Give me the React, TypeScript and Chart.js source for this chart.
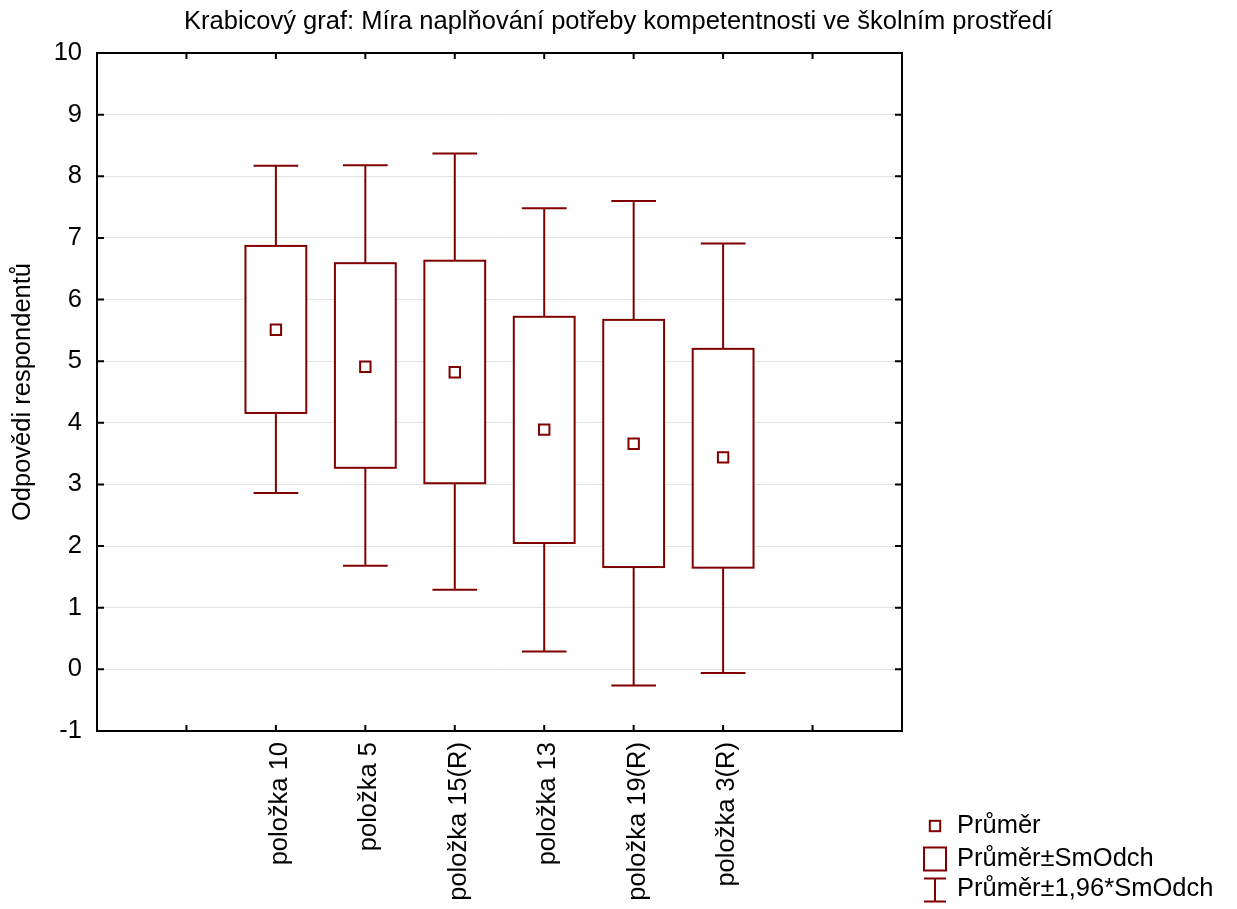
import React, { useEffect, useRef } from 'react';
import { Chart, registerables } from 'chart.js';

Chart.register(...registerables);

// ---- data ----
const titleText = 'Krabicový graf: Míra naplňování potřeby kompetentnosti ve školním prostředí';
const yAxisTitle = 'Odpovědi respondentů';
const categories = ['položka 10', 'položka 5', 'položka 15(R)', 'položka 13', 'položka 19(R)', 'položka 3(R)'];
const positions = [2, 3, 4, 5, 6, 7];
const means = [5.51, 4.91, 4.82, 3.89, 3.66, 3.44];
const sdLow = [4.16, 3.27, 3.02, 2.05, 1.66, 1.65];
const sdHigh = [6.87, 6.59, 6.63, 5.72, 5.67, 5.2];
const ciLow = [2.86, 1.68, 1.29, 0.29, -0.26, -0.06];
const ciHigh = [8.17, 8.18, 8.37, 7.48, 7.6, 6.91];
const legendLabels = ['Průměr', 'Průměr±SmOdch', 'Průměr±1,96*SmOdch'];

// ---- styles ----
const COLOR = '#800000';
const FONT = "'Liberation Sans', Arial, sans-serif";
const FS = 25.5;
const BOX_W = 0.68;
const CAP_W = 0.5;

const boxPlugin = {
  id: 'boxes',
  beforeDatasetsDraw(chart: any) {
    const { ctx } = chart;
    const x = chart.scales.x;
    const y = chart.scales.y;
    ctx.save();
    ctx.strokeStyle = COLOR;
    ctx.lineWidth = 2;
    ctx.lineCap = 'butt';
    positions.forEach((p, i) => {
      const cx = x.getPixelForValue(p);
      const hw = (x.getPixelForValue(p + BOX_W / 2) - x.getPixelForValue(p - BOX_W / 2)) / 2;
      const cw = (x.getPixelForValue(p + CAP_W / 2) - x.getPixelForValue(p - CAP_W / 2)) / 2;
      const wTop = y.getPixelForValue(ciHigh[i]);
      const wBot = y.getPixelForValue(ciLow[i]);
      const bTop = y.getPixelForValue(sdHigh[i]);
      const bBot = y.getPixelForValue(sdLow[i]);
      ctx.beginPath();
      ctx.moveTo(cx, wTop); ctx.lineTo(cx, bTop);
      ctx.moveTo(cx, bBot); ctx.lineTo(cx, wBot);
      ctx.moveTo(cx - cw, wTop); ctx.lineTo(cx + cw, wTop);
      ctx.moveTo(cx - cw, wBot); ctx.lineTo(cx + cw, wBot);
      ctx.stroke();
      ctx.fillStyle = '#ffffff';
      ctx.fillRect(cx - hw, bTop, 2 * hw, bBot - bTop);
      ctx.strokeRect(cx - hw, bTop, 2 * hw, bBot - bTop);
    });
    ctx.restore();
  },
};

const framePlugin = {
  id: 'frame',
  afterDraw(chart: any) {
    const { ctx, chartArea } = chart;
    const { left, right, top, bottom } = chartArea;
    const x = chart.scales.x;
    const y = chart.scales.y;
    ctx.save();
    ctx.strokeStyle = '#000';
    ctx.lineWidth = 2;
    ctx.beginPath();
    y.ticks.forEach((t: any) => {
      const py = y.getPixelForValue(t.value);
      ctx.moveTo(left, py); ctx.lineTo(left + 7, py);
      ctx.moveTo(right, py); ctx.lineTo(right - 7, py);
    });
    x.ticks.forEach((t: any) => {
      const px = x.getPixelForValue(t.value);
      ctx.moveTo(px, bottom); ctx.lineTo(px, bottom - 6);
      ctx.moveTo(px, top); ctx.lineTo(px, top + 6);
    });
    ctx.stroke();
    ctx.strokeRect(left, top, right - left, bottom - top);

    // legend
    const lx = right + 33;
    const tx = right + 55;
    const rows = [826, 859, 889];
    ctx.strokeStyle = COLOR;
    ctx.lineWidth = 2;
    ctx.strokeRect(lx - 5.2, rows[0] - 5.2, 10.4, 10.4);
    ctx.strokeRect(lx - 11, 847.5, 22, 23);
    ctx.beginPath();
    ctx.moveTo(lx - 11, 878.5); ctx.lineTo(lx + 11, 878.5);
    ctx.moveTo(lx - 11, 901.5); ctx.lineTo(lx + 11, 901.5);
    ctx.moveTo(lx, 878.5); ctx.lineTo(lx, 901.5);
    ctx.stroke();
    ctx.fillStyle = '#000';
    ctx.font = `${FS}px ${FONT}`;
    ctx.textAlign = 'left';
    ctx.textBaseline = 'middle';
    legendLabels.forEach((l, i) => ctx.fillText(l, tx, rows[i]));
    ctx.restore();
  },
};

export default function App() {
  const ref = useRef<HTMLCanvasElement>(null);
  useEffect(() => {
    if (!ref.current) return;
    Chart.defaults.font.family = FONT;
    Chart.defaults.color = '#000';
    const chart = new Chart(ref.current, {
      type: 'scatter',
      data: {
        datasets: [
          {
            label: legendLabels[0],
            data: positions.map((p, i) => ({ x: p, y: means[i] })),
            pointStyle: 'rect',
            pointRadius: 7.35,
            pointHoverRadius: 7.35,
            borderColor: COLOR,
            backgroundColor: '#fff',
            borderWidth: 2,
          },
        ],
      },
      options: {
        animation: false,
        responsive: false,
        devicePixelRatio: 1,
        layout: { padding: { left: 0, right: 0, top: 0, bottom: 0 } },
        plugins: {
          legend: { display: false },
          tooltip: { enabled: false },
          title: {
            display: true,
            text: titleText,
            color: '#000',
            font: { size: FS, weight: 'normal', family: FONT },
            padding: { top: 6.7, bottom: 15.7 },
          },
        },
        scales: {
          x: {
            type: 'linear',
            min: 0,
            max: 9,
            grid: { display: false, drawTicks: false },
            border: { display: false },
            ticks: {
              stepSize: 1,
              autoSkip: false,
              minRotation: 90,
              maxRotation: 90,
              padding: 11,
              labelOffset: 4,
              color: '#000',
              font: { size: FS, family: FONT },
              callback: (v: any) => {
                const idx = positions.indexOf(Number(v));
                return idx >= 0 ? categories[idx] : '';
              },
            },
            afterFit: (s: any) => { s.height = 178; },
          },
          y: {
            type: 'linear',
            min: -1,
            max: 10,
            grid: { color: '#e2e2e2', lineWidth: 1, drawTicks: false },
            border: { display: false },
            ticks: {
              stepSize: 1,
              padding: 15,
              color: '#000',
              font: { size: FS, family: FONT },
            },
            title: {
              display: true,
              text: yAxisTitle,
              color: '#000',
              font: { size: FS, family: FONT },
              padding: { top: 8, bottom: 0 },
            },
            afterFit: (s: any) => { s.width = 97; },
          },
          yRight: {
            type: 'linear',
            position: 'right',
            min: -1,
            max: 10,
            grid: { display: false, drawTicks: false },
            border: { display: false },
            ticks: { display: false },
            afterFit: (s: any) => { s.width = 335; },
          },
        },
      },
      plugins: [boxPlugin, framePlugin],
    });
    return () => chart.destroy();
  }, []);
  return (
    <div style={{ position: 'absolute', left: 0, top: 0, width: 1237, height: 909, background: '#fff' }}>
      <canvas ref={ref} width={1237} height={909} />
    </div>
  );
}
